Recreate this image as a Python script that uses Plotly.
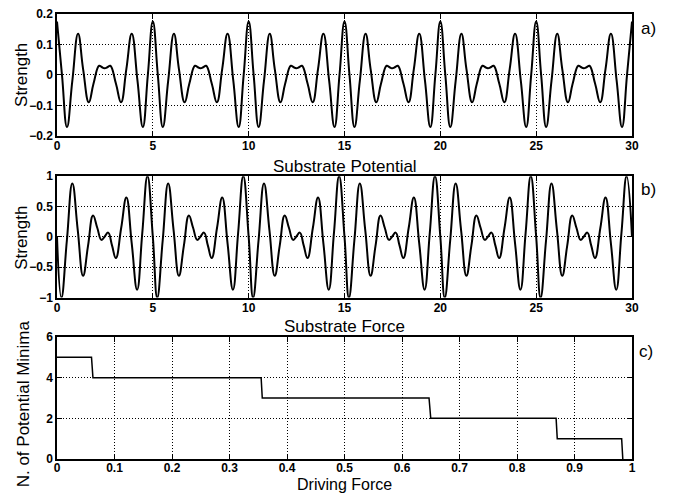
import plotly.graph_objects as go

# ---- data (one period of 5, repeated 6 times) ----
period = 5.0
n_periods = 6
pot_x = [0.00, 0.26, 0.52, 0.80, 1.10, 1.36, 1.66, 1.90, 2.20, 2.33, 2.48, 2.65, 2.78, 3.08, 3.34, 3.62, 3.90, 4.20, 4.48, 4.74]
pot_y = [0.175, 0.0, -0.171, -0.02, 0.135, 0.02, -0.090, -0.03, 0.030, 0.026, 0.022, 0.026, 0.030, -0.03, -0.090, 0.02, 0.135, -0.02, -0.171, 0.0]

force_x = [0.00, 0.23, 0.515, 0.80, 1.08, 1.36, 1.62, 1.88, 2.10, 2.32, 2.50, 2.67, 2.87, 3.07, 3.35, 3.62, 3.90, 4.18, 4.45, 4.72]
force_y = [0.0, -1.0, -0.06, 0.88, 0.12, -0.64, -0.145, 0.35, 0.15, -0.05, 0.01, 0.07, -0.14, -0.35, 0.15, 0.65, -0.11, -0.87, 0.065, 1.0]

drive_x = [0.0, 0.060, 0.0625, 0.355, 0.357, 0.647, 0.650, 0.868, 0.870, 0.982, 0.984]
minima_y = [5, 5, 4, 4, 3, 3, 2, 2, 1, 1, 0]

ab_xticks = [0, 5, 10, 15, 20, 25, 30]
a_yticks = [-0.2, -0.1, 0, 0.1, 0.2]
b_yticks = [-1, -0.5, 0, 0.5, 1]
c_xticks = [0, 0.1, 0.2, 0.3, 0.4, 0.5, 0.6, 0.7, 0.8, 0.9, 1]
c_xlabels = ["0", "0.1", "0.2", "0.3", "0.4", "0.5", "0.6", "0.7", "0.8", "0.9", "1"]
c_yticks = [0, 2, 4, 6]


def tile(xs, ys):
    fx, fy = [], []
    for p in range(n_periods):
        fx += [p * period + v for v in xs]
        fy += list(ys)
    fx.append(n_periods * period)
    fy.append(ys[0])
    return fx, fy


px_, py_ = tile(pot_x, pot_y)
fx_, fy_ = tile(force_x, force_y)

fig = go.Figure()
line = dict(color="black", width=2, shape="spline", smoothing=1.3)
fig.add_trace(go.Scatter(x=px_, y=py_, mode="lines", line=line, xaxis="x", yaxis="y", showlegend=False))
fig.add_trace(go.Scatter(x=fx_, y=fy_, mode="lines", line=line, xaxis="x2", yaxis="y2", showlegend=False))
fig.add_trace(go.Scatter(x=drive_x, y=minima_y, mode="lines", line=dict(color="black", width=1.5),
                         xaxis="x3", yaxis="y3", showlegend=False))

tickfont = dict(family="Liberation Sans", size=12, color="black", weight="bold")
common = dict(showline=True, linecolor="black", linewidth=1.5, mirror="ticks", ticks="inside",
              ticklen=5, tickcolor="black", tickwidth=1, showgrid=True, gridcolor="black",
              griddash="1px,2px", gridwidth=1, zeroline=False, tickfont=tickfont)

dom_a = [0.7263, 1.0]
dom_b = [0.3628, 0.6356]
dom_c = [0.0, 0.2743]

fig.update_layout(
    width=673, height=495,
    margin=dict(l=57, r=41, t=7, b=36),
    paper_bgcolor="white", plot_bgcolor="white",
    xaxis=dict(common, domain=[0, 1], anchor="y", range=[0, 30], tickvals=ab_xticks,
               ticklabelstandoff=-2),
    yaxis=dict(common, domain=dom_a, anchor="x", range=[-0.2, 0.2], tickvals=a_yticks,
               ticktext=["\u22120.2", "\u22120.1", "0", "0.1", "0.2"]),
    xaxis2=dict(common, domain=[0, 1], anchor="y2", range=[0, 30], tickvals=ab_xticks,
                ticklabelstandoff=-2),
    yaxis2=dict(common, domain=dom_b, anchor="x2", range=[-1, 1], tickvals=b_yticks,
                ticktext=["\u22121", "\u22120.5", "0", "0.5", "1"]),
    xaxis3=dict(common, domain=[0, 1], anchor="y3", range=[0, 1], tickvals=c_xticks, ticktext=c_xlabels,
                ticklabelstandoff=-3),
    yaxis3=dict(common, domain=dom_c, anchor="x3", range=[0, 6], tickvals=c_yticks),
)

tfont = dict(family="Liberation Sans", size=17, color="black")
annots = [
    dict(text="Substrate Potential", x=0.5, y=0.658, textangle=0),
    dict(text="Substrate Force", x=0.5, y=0.297, textangle=0),
    dict(text="Driving Force", x=0.5, y=-0.058, textangle=0, font=dict(tfont, size=16)),
    dict(text="Strength", x=-0.0609, y=0.863, textangle=-90),
    dict(text="Strength", x=-0.0609, y=0.497, textangle=-90),
    dict(text="N. of Potential Minima", x=-0.0592, y=0.125, textangle=-90),
    dict(text="a)", x=1.028, y=0.967, textangle=0),
    dict(text="b)", x=1.028, y=0.606, textangle=0),
    dict(text="c)", x=1.025, y=0.241, textangle=0),
]
for a in annots:
    a.setdefault("font", tfont)
    fig.add_annotation(xref="paper", yref="paper", xanchor="center", yanchor="middle",
                       showarrow=False, **a)

fig.write_html("out.html")
